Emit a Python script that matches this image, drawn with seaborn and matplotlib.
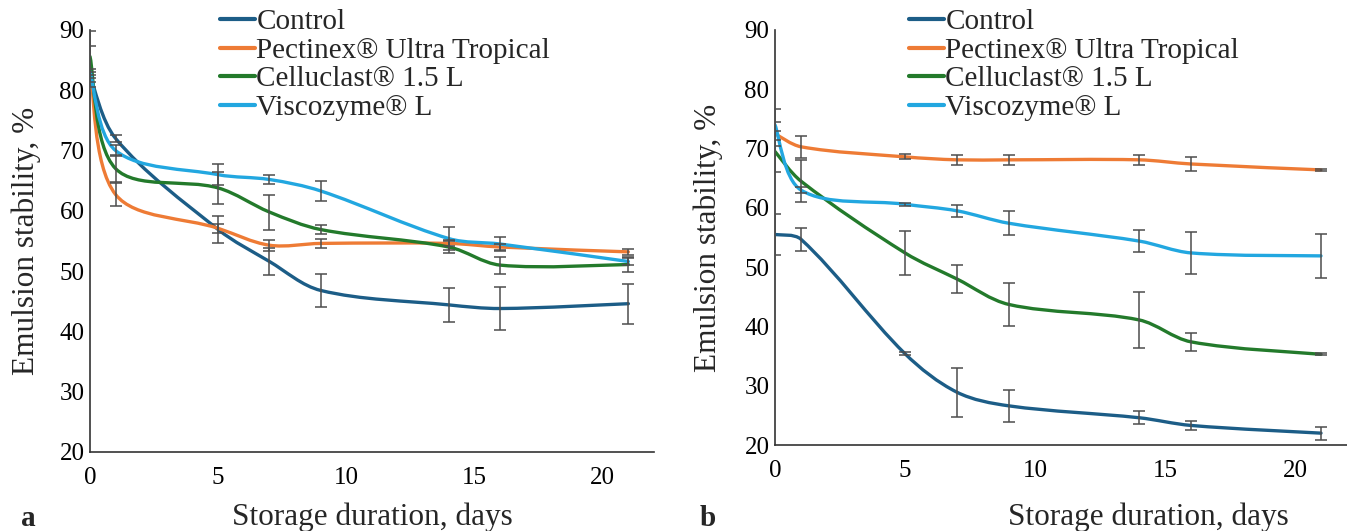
import numpy as np
import matplotlib
matplotlib.use("Agg")
import matplotlib.pyplot as plt
from matplotlib.path import Path
from matplotlib.patches import PathPatch
from matplotlib.lines import Line2D
import seaborn as sns

# ---------------- data ----------------
days = [0, 1, 5, 7, 9, 14, 16, 21]
series_names = ["Control", "Pectinex\u00ae Ultra Tropical", "Celluclast\u00ae 1.5 L", "Viscozyme\u00ae L"]

# panel a
control_a = [82.5, 72.0, 56.9, 51.6, 46.8, 44.4, 43.8, 44.6]
control_a_err = [0.5, 0.6, 2.25, 2.2, 2.7, 2.8, 3.6, 3.3]
pectinex_a = [84.0, 62.7, 57.1, 54.3, 54.6, 54.6, 54.0, 53.2]
pectinex_a_err = [3.4, 1.9, 0.8, 0.9, 0.8, 0.5, 0.5, 0.5]
celluclast_a = [85.6, 67.0, 63.8, 59.8, 56.9, 54.0, 51.0, 51.1]
celluclast_a_err = [4.2, 2.25, 2.6, 2.9, 0.8, 1.0, 1.4, 1.3]
viscozyme_a = [83.1, 70.0, 66.0, 65.2, 63.3, 55.4, 54.5, 51.6]
viscozyme_a_err = [0.5, 0.9, 1.7, 0.8, 1.6, 1.9, 1.2, 0.6]

# panel b
control_b = [55.5, 54.7, 35.4, 28.9, 26.6, 24.6, 23.3, 22.0]
control_b_err = [3.4, 1.9, 0.3, 4.1, 2.7, 1.1, 0.7, 1.1]
pectinex_b = [72.5, 70.3, 68.6, 68.1, 68.1, 68.1, 67.4, 66.4]
pectinex_b_err = [2.0, 1.9, 0.4, 0.8, 0.8, 0.8, 1.2, 0.1]
celluclast_b = [69.5, 64.5, 52.4, 48.0, 43.7, 41.1, 37.4, 35.3]
celluclast_b_err = [3.4, 3.5, 3.7, 2.3, 3.6, 4.7, 1.5, 0.2]
viscozyme_b = [74.0, 63.0, 60.6, 59.5, 57.4, 54.4, 52.4, 51.9]
viscozyme_b_err = [2.6, 0.5, 0.3, 1.05, 2.0, 1.8, 3.6, 3.65]

x_ticks = [0, 5, 10, 15, 20]
y_ticks = [20, 30, 40, 50, 60, 70, 80, 90]

colors = ["#1C5D87", "#EE7B35", "#237A2B", "#22A7E0"]

# ---------------- style ----------------
sns.set_theme(style="white")
plt.rcParams["font.family"] = ["Liberation Serif", "DejaVu Serif"]

W, H = 1347, 531
fig = plt.figure(figsize=(W / 100, H / 100), dpi=100)


def px_axes(left, right, top, bottom):
    return fig.add_axes([left / W, 1 - bottom / H, (right - left) / W, (bottom - top) / H])


ax_a = px_axes(90, 654, 30, 452)
ax_b = px_axes(775, 1347, 30, 445)


def smooth_path(ax, x, y):
    """Excel-like smoothed line: cubic Bezier through each point, handle
    lengths weighted by chord length in screen space."""
    x = np.asarray(x, float)
    y = np.asarray(y, float)
    n = len(x)
    bb = ax.get_position()
    sx = bb.width * W / 22.0
    sy = bb.height * H / 70.0
    P = np.column_stack([x, y])
    S = np.column_stack([x * sx, y * sy])
    d = np.hypot(*np.diff(S, axis=0).T)
    T = np.zeros_like(P)
    for i in range(n):
        i0 = max(i - 1, 0)
        i1 = min(i + 1, n - 1)
        T[i] = P[i1] - P[i0]
    verts = [tuple(P[0])]
    codes = [Path.MOVETO]
    for i in range(n - 1):
        dl = d[i - 1] if i > 0 else d[i]
        dr = d[i + 1] if i + 1 < n - 1 else d[i]
        w1 = d[i] / (dl + d[i]) if i > 0 else 0.5
        w2 = d[i] / (d[i] + dr) if i + 1 < n - 1 else 0.5
        c1 = P[i] + T[i] * w1 / 3.0
        c2 = P[i + 1] - T[i + 1] * w2 / 3.0
        verts += [tuple(c1), tuple(c2), tuple(P[i + 1])]
        codes += [Path.CURVE4] * 3
    return Path(verts, codes)


def draw_panel(ax, vals, errs, leg_x, xlab_pos, ylab_x):
    for v, e, c in zip(vals, errs, colors):
        patch = PathPatch(smooth_path(ax, days, v), fill=False, edgecolor=c, lw=2.4,
                          capstyle="round", joinstyle="round", zorder=3)
        ax.add_patch(patch)
        ax.errorbar(days, v, yerr=e, fmt="none", ecolor="#4d4d4d", elinewidth=1.1,
                    capsize=4, capthick=1.1, zorder=4)
    ax.set_xlim(0, 22)
    ax.set_ylim(20, 90)
    ax.set_xticks(x_ticks)
    ax.set_yticks(y_ticks)
    ax.tick_params(axis="both", length=0, labelsize=18, colors="black")
    ax.tick_params(axis="x", pad=11)
    ax.tick_params(axis="y", pad=4)
    sns.despine(ax=ax)
    for s in ["left", "bottom"]:
        ax.spines[s].set_color("#333333")
        ax.spines[s].set_linewidth(1.2)
    ax.set_xlabel("Storage duration, days", fontsize=22.5, va="center")
    ax.set_ylabel("Emulsion stability, %", fontsize=22.5, va="center")
    ax.xaxis.set_label_coords(*xlab_pos)
    ax.yaxis.set_label_coords(ylab_x, 0.5)
    handles = [Line2D([0], [0], color=c, lw=3) for c in colors]
    ax.legend(handles, series_names, loc="upper left", bbox_to_anchor=(leg_x / W, 1 - 9 / H),
              bbox_transform=fig.transFigure, frameon=False, fontsize=21, borderpad=0,
              borderaxespad=0, handlelength=1.2, handletextpad=0.05, labelspacing=0.07)
    ax.set_facecolor("white")


draw_panel(ax_a, [control_a, pectinex_a, celluclast_a, viscozyme_a],
           [control_a_err, pectinex_a_err, celluclast_a_err, viscozyme_a_err],
           220, (0.5, (452 - 517) / 422), (26 - 90) / 564)
draw_panel(ax_b, [control_b, pectinex_b, celluclast_b, viscozyme_b],
           [control_b_err, pectinex_b_err, celluclast_b_err, viscozyme_b_err],
           909, ((1148 - 775) / 572, (445 - 517) / 415), (708 - 775) / 572)

fig.text(28 / W, 1 - 519 / H, "a", fontsize=21, fontweight="bold", ha="center", va="center")
fig.text(708 / W, 1 - 519 / H, "b", fontsize=21, fontweight="bold", ha="center", va="center")

fig.savefig("out.png", dpi=100, facecolor="white")
